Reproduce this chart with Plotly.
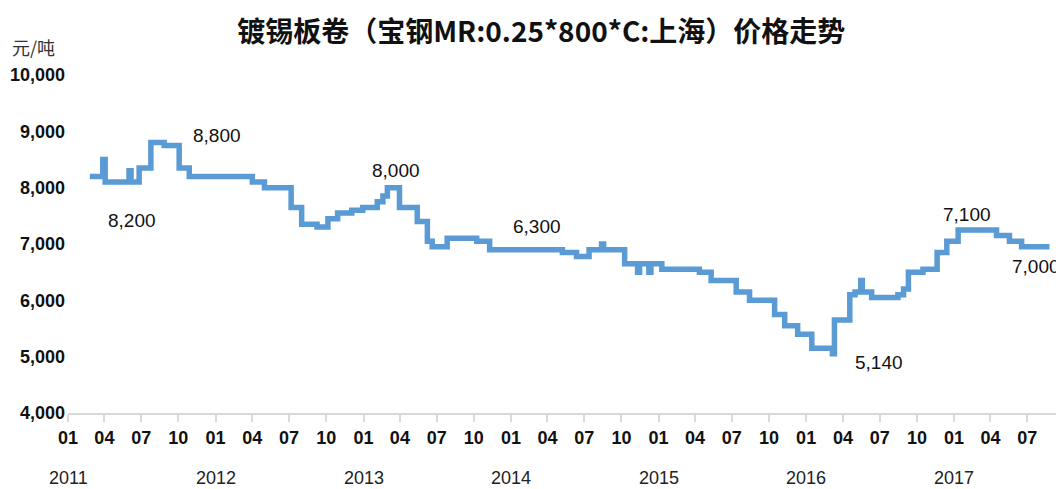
import plotly.graph_objects as go

# ---- data (step-change points of the weekly price series) ----
change_dates = ["2011-02-24","2011-03-28","2011-04-03","2011-06-01","2011-06-06","2011-06-26",
                "2011-07-25","2011-08-27","2011-10-03","2011-10-28","2012-04-01","2012-05-01",
                "2012-07-06","2012-08-01","2012-09-08","2012-10-05","2012-10-29","2012-12-03",
                "2012-12-30","2013-02-04","2013-02-18","2013-03-01","2013-03-31","2013-05-14",
                "2013-06-08","2013-06-20","2013-07-27","2013-10-08","2013-11-09","2014-05-08",
                "2014-06-12","2014-07-13","2014-08-13","2014-08-18","2014-10-09","2014-11-10",
                "2014-11-15","2014-12-08","2014-12-13","2015-01-09","2015-04-12","2015-05-11",
                "2015-07-12","2015-08-14","2015-10-15","2015-11-09","2015-12-11","2016-01-15",
                "2016-03-06","2016-03-11","2016-04-18","2016-05-01","2016-05-15","2016-05-19",
                "2016-06-11","2016-08-15","2016-08-29","2016-09-10","2016-10-16","2016-11-20",
                "2016-12-14","2017-01-11","2017-04-16","2017-05-18","2017-06-17","2017-08-25"]
prices = [8200, 8500, 8100, 8300, 8100, 8350,
          8800, 8750, 8350, 8200, 8100, 8000,
          7650, 7350, 7300, 7450, 7550, 7600,
          7650, 7750, 7850, 8000, 7650, 7400,
          7050, 6950, 7100, 7050, 6900, 6850,
          6780, 6900, 7000, 6900, 6650, 6500,
          6650, 6500, 6650, 6550, 6500, 6350,
          6150, 6000, 5750, 5550, 5400, 5150,
          5050, 5650, 6100, 6150, 6350, 6150,
          6050, 6100, 6200, 6500, 6550, 6850,
          7050, 7250, 7150, 7050, 6950, 6950]

# value labels drawn on the chart (text as printed, and where they sit)
label_texts = ["8,200", "8,800", "8,000", "6,300", "5,140", "7,100", "7,000"]
label_dates = ["2011-06-09", "2012-01-04", "2013-03-23", "2014-03-07", "2016-06-28", "2017-02-03", "2017-07-22"]
label_values = [7410, 8935, 8296, 7302, 4888, 7515, 6592]

# axis ticks
tick_dates = [f"{y}-{m:02d}-01" for y in range(2011, 2018) for m in (1, 4, 7, 10)][:27]
tick_text = [d[5:7] for d in tick_dates]
year_labels = ["2011", "2012", "2013", "2014", "2015", "2016", "2017"]
y_ticks = [4000, 5000, 6000, 7000, 8000, 9000, 10000]

title = "镀锡板卷（宝钢MR:0.25*800*C:上海）价格走势"
unit = "元/吨"

SANS = "Liberation Sans, Arial, sans-serif"

fig = go.Figure()
fig.add_trace(go.Scatter(
    x=change_dates, y=prices, mode="lines",
    line=dict(color="#5B9BD5", width=5.5, shape="hv"),
    hoverinfo="skip", showlegend=False))

for t, d, v in zip(label_texts, label_dates, label_values):
    fig.add_annotation(x=d, y=v, text=t, showarrow=False,
                       font=dict(family=SANS, size=19, color="#111111"),
                       xanchor="center", yanchor="middle")

for yl in year_labels:
    fig.add_annotation(x=f"{yl}-01-01", y=0, yref="paper", text=yl, showarrow=False,
                       font=dict(family=SANS, size=18, color="#222222"),
                       xanchor="center", yanchor="middle", yshift=-65)

fig.add_annotation(x=0, xref="paper", xanchor="left", xshift=-58, y=1, yref="paper",
                   yanchor="middle", yshift=28, text=unit, showarrow=False,
                   font=dict(family="Noto Sans CJK SC", size=18, color="#333333"))

# page body has an 8px margin, so the figure is sized to the visible area
fig.update_layout(
    width=1056, height=481,
    margin=dict(l=60, r=4, t=67, b=76, autoexpand=False),
    paper_bgcolor="white", plot_bgcolor="white",
    title=dict(text=title, x=0.505, xanchor="center", y=0.95, yanchor="middle",
               font=dict(family="Noto Sans CJK SC", size=28, color="#111111", weight="bold")),
    xaxis=dict(type="date", range=["2011-01-01", "2017-09-20"], automargin=False,
               tickmode="array", tickvals=tick_dates, ticktext=tick_text,
               ticks="outside", ticklen=7, tickwidth=2, tickcolor="#d9d9d9",
               showline=True, linecolor="#d9d9d9", linewidth=2,
               showgrid=False, zeroline=False,
               tickfont=dict(family=SANS, size=18, color="#111111", weight="bold")),
    yaxis=dict(range=[4000, 10000], tickvals=y_ticks, tickformat=",", automargin=False,
               showgrid=False, zeroline=False, showline=False, ticks="",
               ticklabelstandoff=2,
               tickfont=dict(family=SANS, size=18, color="#111111", weight="bold")),
)

fig.write_html("out.html")
